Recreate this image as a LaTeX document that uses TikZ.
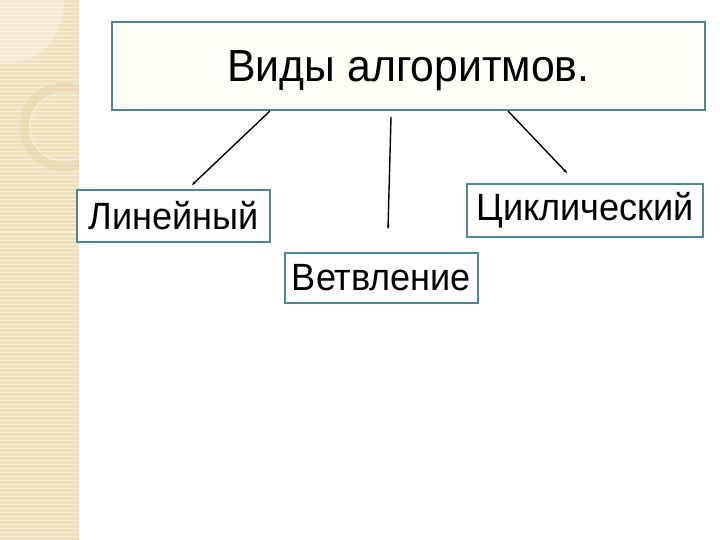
\documentclass[tikz,border=0pt]{standalone}
\usepackage{fontspec}
\setmainfont{Liberation Sans}[FakeStretch=0.95]
\usetikzlibrary{arrows.meta}
\definecolor{boxborder}{HTML}{4E8597}
\definecolor{strip}{HTML}{EEDFBD}
\definecolor{stripline}{HTML}{F7EFD9}
\definecolor{ringcol}{HTML}{E6D6AC}
\begin{document}
\begin{tikzpicture}[x=1pt,y=-1pt,
  boxstyle/.style={draw=boxborder,line width=2pt,fill=white,inner sep=0pt,outer sep=0pt,text=black},
  conn/.style={line width=1.4pt,-{Stealth[length=4pt,width=3pt]}}]
\useasboundingbox (0,0) rectangle (720,540);
\fill[white] (0,0) rectangle (720,540);
% decorative strip
\fill[strip] (0,0) rectangle (79,540);
\foreach \y in {0,4,...,540} {\draw[stripline,line width=1pt] (0,\y) -- (79,\y);}
\begin{scope}
\clip (0,0) rectangle (79,540);
\fill[white,opacity=0.3] (0,0) -- (64,0) .. controls (64,40) and (40,60) .. (12,63) -- (0,63) -- cycle;
\draw[ringcol,line width=9pt,opacity=0.5] (64,127) circle (40);
\draw[white,opacity=0.35,line width=1pt] (64,127) circle (34);
\end{scope}
% nodes
\node[boxstyle,fill=white!97!yellow,minimum width=593,minimum height=88,text height=41.5pt,text depth=9.5pt,font=\fontsize{45}{50}\selectfont] (title) at (408.5,66) {Виды алгоритмов.};
\node[boxstyle,minimum width=193,minimum height=52,font=\fontsize{38}{42}\selectfont] (lin) at (173.5,216) {Линейный};
\node[boxstyle,minimum width=193,minimum height=50,font=\fontsize{38}{42}\selectfont] (vet) at (381.5,278) {Ветвление};
\node[boxstyle,minimum width=236,minimum height=53,font=\fontsize{38}{42}\selectfont] (cyc) at (585,210.5) {Циклический};
% connector ends
\coordinate (s1) at (270,111);
\coordinate (e1) at (192,185);
\coordinate (s2) at (391,117);
\coordinate (e2) at (388,229);
\coordinate (s3) at (508,111);
\coordinate (e3) at (567,173);
\draw[conn] (s1) -- (e1);
\draw[conn] (s2) -- (e2);
\draw[conn] (s3) -- (e3);
\end{tikzpicture}
\end{document}
